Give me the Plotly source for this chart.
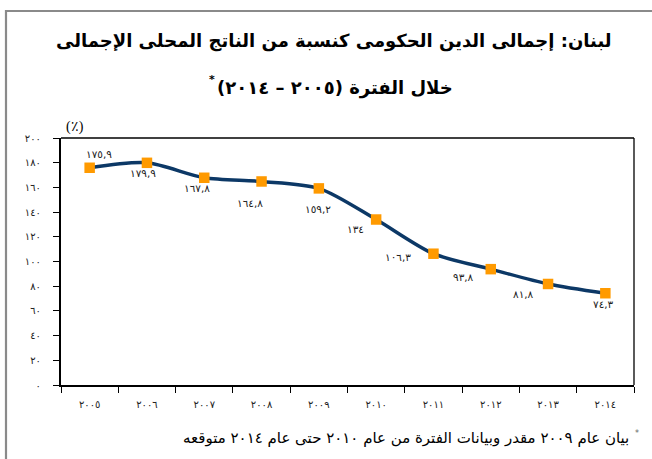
import plotly.graph_objects as go

# ---- data ----
years = ["٢٠٠٥", "٢٠٠٦", "٢٠٠٧", "٢٠٠٨", "٢٠٠٩", "٢٠١٠", "٢٠١١", "٢٠١٢", "٢٠١٣", "٢٠١٤"]
debt_ratio = [175.9, 179.9, 167.8, 164.8, 159.2, 134.0, 106.3, 93.8, 81.8, 74.3]
value_labels = ["١٧٥,٩", "١٧٩,٩", "١٦٧,٨", "١٦٤,٨", "١٥٩,٢", "١٣٤", "١٠٦,٣", "٩٣,٨", "٨١,٨", "٧٤,٣"]
ytick_vals = [0, 20, 40, 60, 80, 100, 120, 140, 160, 180, 200]
ytick_text = ["٠", "٢٠", "٤٠", "٦٠", "٨٠", "١٠٠", "١٢٠", "١٤٠", "١٦٠", "١٨٠", "٢٠٠"]

title_line1 = "لبنان: إجمالى الدين الحكومى كنسبة من الناتج المحلى الإجمالى"
title_line2 = "خلال الفترة (٢٠٠٥ – ٢٠١٤)"
unit_label = "(٪)"
footnote = "بيان عام ٢٠٠٩ مقدر وبيانات الفترة من عام ٢٠١٠ حتى عام ٢٠١٤ متوقعه"

# label offsets (pixels) relative to each point: (xshift, yshift)
label_offsets = [(9, 14), (-4, -10), (-7, -10), (-12, -22), (-1, -21),
                 (-21, -9), (-35, -3), (-27, -8), (-25, -10), (-2, -11)]

RLE, PDF = "\u202b", "\u202c"
AR_FONT = "DejaVu Sans"

fig = go.Figure()
fig.add_trace(go.Scatter(
    x=years, y=debt_ratio, mode="lines",
    line=dict(color="#0c3866", width=3.5, shape="spline", smoothing=0.8),
    hoverinfo="skip", showlegend=False))
fig.add_trace(go.Scatter(
    x=years, y=debt_ratio, mode="markers",
    marker=dict(symbol="square", size=10.5, color="#ff9a00", line=dict(width=0)),
    showlegend=False))

annotations = []
for yr, v, lab, (dx, dy) in zip(years, debt_ratio, value_labels, label_offsets):
    annotations.append(dict(x=yr, y=v, xref="x", yref="y", text=lab, showarrow=False,
                            xshift=dx, yshift=dy,
                            font=dict(family=AR_FONT, size=10.5, color="#222")))

def px_x(p):
    return (p - 61) / 573.0

def px_y(p):
    return (385 - p) / 247.0

annotations += [
    dict(x=px_x(334), y=px_y(41), xref="paper", yref="paper", text=RLE + title_line1 + PDF,
         showarrow=False, xanchor="center", yanchor="middle",
         font=dict(family=AR_FONT, size=18, color="black", weight="bold")),
    dict(x=px_x(335), y=px_y(88), xref="paper", yref="paper", text=RLE + title_line2 + PDF,
         showarrow=False, xanchor="center", yanchor="middle",
         font=dict(family=AR_FONT, size=18, color="black", weight="bold")),
    dict(x=px_x(212), y=px_y(79), xref="paper", yref="paper", text="*",
         showarrow=False, xanchor="center", yanchor="middle",
         font=dict(family=AR_FONT, size=11, color="black", weight="bold")),
    dict(x=px_x(75), y=px_y(127), xref="paper", yref="paper", text=unit_label,
         showarrow=False, xanchor="center", yanchor="middle",
         font=dict(family="Liberation Serif", size=14, color="black")),
    dict(x=px_x(631), y=px_y(438), xref="paper", yref="paper", text=RLE + footnote + PDF,
         showarrow=False, xanchor="right", yanchor="middle",
         font=dict(family=AR_FONT, size=15, color="black")),
    dict(x=px_x(637), y=px_y(433), xref="paper", yref="paper", text="*",
         showarrow=False, xanchor="center", yanchor="middle",
         font=dict(family=AR_FONT, size=8, color="#666")),
]

shapes = [
    # outer grey frame
    dict(type="rect", xref="paper", yref="paper", x0=px_x(6), y0=px_y(520), x1=px_x(720), y1=px_y(11),
         line=dict(color="#8a8a8a", width=2.2), fillcolor="rgba(0,0,0,0)", layer="above"),
    # thin top and right frame of plot area
    dict(type="line", xref="paper", yref="paper", x0=0, y0=1, x1=1, y1=1,
         line=dict(color="black", width=1.3)),
    dict(type="line", xref="paper", yref="paper", x0=1, y0=0, x1=1, y1=1,
         line=dict(color="black", width=1.3)),
]

fig.update_layout(
    width=652, height=459,
    margin=dict(l=61, r=18, t=138, b=74),
    paper_bgcolor="white", plot_bgcolor="white",
    annotations=annotations, shapes=shapes,
    showlegend=False,
    xaxis=dict(type="category", showgrid=False, zeroline=False,
               showline=True, linecolor="black", linewidth=2.2,
               ticks="outside", tickson="boundaries", ticklen=6, tickwidth=1.3, tickcolor="black",
               tickfont=dict(family=AR_FONT, size=10, color="#222"),
               ticklabelstandoff=9, range=[-0.5, 9.5]),
    yaxis=dict(range=[0, 200], showgrid=False, zeroline=False,
               showline=True, linecolor="black", linewidth=2.2,
               ticks="outside", ticklen=6, tickwidth=1.3, tickcolor="black",
               tickvals=ytick_vals, ticktext=ytick_text,
               tickfont=dict(family=AR_FONT, size=10, color="#222"),
               ticklabelstandoff=10),
)

fig.write_html("out.html", config={"displayModeBar": False},
               post_script="document.body.style.margin='0';")
